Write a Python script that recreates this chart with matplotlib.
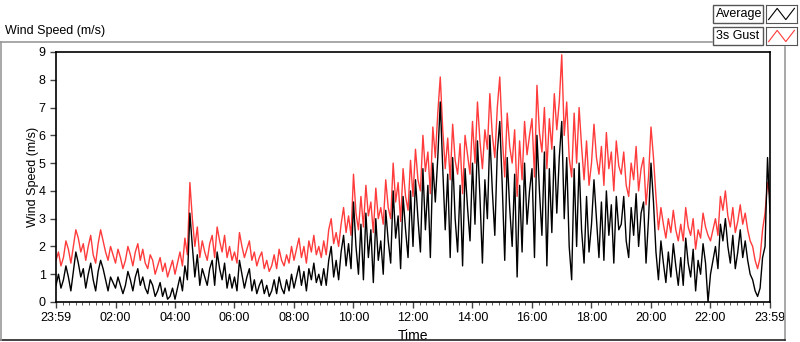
import numpy as np
import matplotlib.pyplot as plt
from matplotlib.lines import Line2D
from matplotlib.patches import Rectangle

plt.rcParams['font.family'] = ['Liberation Sans', 'DejaVu Sans']

# 5-minute samples, starting at 23:59
gust = [
    1.5, 1.8, 1.3, 1.6, 2.2, 1.9, 1.4, 2.0, 2.6, 2.3, 1.8, 2.1,
    1.5, 2.0, 2.4, 1.7, 1.4, 2.1, 2.6, 2.2, 1.8, 1.5, 2.0, 1.7,
    1.4, 1.9, 1.6, 1.2, 1.5, 2.0, 1.7, 1.3, 1.8, 2.1, 1.5, 1.9,
    1.4, 1.2, 1.7, 1.5, 1.0, 1.3, 1.6, 1.1, 1.4, 0.9, 1.2, 1.5,
    1.0, 1.4, 1.8, 1.3, 2.3, 1.7, 4.3, 3.0, 2.0, 2.7, 1.6, 2.2,
    1.8, 1.5, 2.1, 2.4, 1.6, 2.7, 2.2, 1.8, 2.4, 1.6, 2.0, 1.5,
    1.8, 1.4, 2.5, 2.0, 1.6, 1.9, 2.2, 1.5, 1.8, 1.3, 1.6, 1.8,
    1.2, 1.5, 1.1, 1.3, 1.7, 1.2, 1.9, 1.5, 1.3, 1.7, 1.4, 2.0,
    1.5, 1.9, 2.3, 1.6, 2.0, 1.4, 2.2, 1.8, 2.4, 1.7, 2.0, 1.6,
    2.2, 1.7, 2.6, 3.0, 2.1, 2.5, 2.0, 2.8, 3.4, 2.5, 3.1, 2.4,
    4.6, 3.2, 2.6, 3.8, 2.7, 4.2, 3.1, 3.6, 2.5, 4.1, 3.0, 3.4,
    2.8, 4.4, 3.4, 3.0, 5.0, 3.6, 4.3, 2.9, 4.8, 3.8, 3.3, 5.1,
    3.8, 5.5, 4.4, 4.0, 6.0, 4.7, 5.4, 3.9, 6.3, 5.2, 6.8, 8.1,
    6.2, 4.8, 5.9, 4.4, 6.4, 5.1, 4.6, 5.7, 3.9, 6.0, 5.3, 4.6,
    6.5, 5.0, 7.2, 5.8, 4.8, 6.2, 5.5, 7.5, 6.0, 5.2, 7.0, 8.1,
    6.0, 4.5, 6.8, 5.6, 5.0, 6.2, 3.8, 5.8, 4.4, 6.5, 5.3, 6.0,
    6.6, 4.5, 7.8, 6.1, 5.4, 7.0, 4.8, 6.6, 5.5, 7.5, 6.2, 7.2,
    8.9, 6.0, 7.2, 5.2, 4.5, 6.8, 5.0, 7.0, 5.6, 4.4, 5.8, 4.2,
    5.0, 6.4, 5.2, 4.6, 5.6, 4.2, 6.1, 4.8, 5.4, 4.0, 5.8, 4.9,
    4.6, 5.4, 4.2, 3.8, 5.0, 4.4, 5.6, 4.0, 4.8, 5.2, 3.5, 4.5,
    6.3, 5.2, 3.8, 2.6, 3.4, 2.8, 2.3, 3.0, 2.5, 3.3, 2.6, 2.2,
    2.8, 2.2, 3.4, 2.7, 2.4, 3.0, 1.9, 2.6, 2.3, 3.2, 2.7, 2.4,
    2.2, 2.6, 3.0, 2.4, 3.8, 3.3, 4.0, 3.1, 2.7, 3.4, 2.5, 2.9,
    3.5, 2.8, 3.2, 2.6, 2.2, 2.0, 1.5, 1.2, 1.6, 2.6, 3.2, 4.3,
    3.8,
]
average = [
    0.6, 1.0, 0.5, 0.8, 1.3, 0.9, 0.4, 1.1, 1.8, 1.4, 0.9, 1.2,
    0.5, 1.0, 1.4, 0.8, 0.4, 1.1, 1.5, 1.2, 0.8, 0.4, 0.9, 0.7,
    0.5, 0.9, 0.6, 0.3, 0.6, 1.1, 0.8, 0.4, 0.9, 1.2, 0.6, 0.9,
    0.5, 0.3, 0.8, 0.6, 0.2, 0.4, 0.7, 0.2, 0.5, 0.1, 0.2, 0.5,
    0.1, 0.5, 0.9, 0.4, 1.3, 0.8, 3.2, 2.0, 0.9, 1.7, 0.6, 1.2,
    0.9, 0.6, 1.2, 1.5, 0.6, 1.8, 1.2, 0.8, 1.4, 0.5, 1.0, 0.5,
    0.9, 0.4, 1.5, 1.0, 0.5, 0.9, 1.2, 0.4, 0.8, 0.3, 0.6, 0.8,
    0.3, 0.6, 0.2, 0.4, 0.8, 0.3, 0.9, 0.5, 0.3, 0.8, 0.4, 1.0,
    0.5, 0.9, 1.3, 0.6, 1.1, 0.4, 1.2, 0.8, 1.4, 0.7, 1.0, 0.6,
    1.2, 0.6, 1.5, 2.0, 0.9, 1.5, 0.8, 1.8, 2.4, 1.3, 2.1, 1.2,
    3.6, 2.0, 1.0, 2.8, 0.8, 3.2, 1.6, 2.6, 0.7, 3.0, 1.5, 2.2,
    1.0, 3.3, 2.2, 1.4, 4.0, 2.3, 3.1, 1.2, 3.8, 2.6, 1.6, 4.0,
    2.0, 4.4, 3.0, 1.8, 4.8, 2.6, 4.2, 1.6, 5.0, 3.6, 5.2, 7.2,
    4.8, 2.6, 4.6, 1.6, 5.2, 3.0, 1.8, 4.2, 1.3, 4.8, 3.4, 2.2,
    5.0, 2.8, 5.8, 3.8, 1.4, 4.4, 3.0, 6.0, 4.0, 2.4, 5.4, 6.5,
    4.2, 1.5, 5.2, 3.4, 2.0, 4.6, 0.9, 4.2, 1.8, 5.0, 2.8, 4.0,
    4.8, 1.6, 6.0, 4.0, 2.4, 5.4, 1.3, 4.8, 2.5, 5.6, 3.2, 5.2,
    6.5, 3.0, 5.2, 2.0, 0.8, 4.8, 2.0, 5.0, 2.6, 1.4, 3.8, 1.8,
    2.8, 4.4, 3.0, 1.6, 3.6, 1.5, 4.0, 2.4, 3.5, 1.4, 3.8, 2.6,
    2.8, 3.8, 2.2, 1.6, 3.4, 2.4, 3.9, 2.0, 3.2, 3.6, 1.4, 3.0,
    5.0, 3.6, 1.8, 0.8, 2.2, 1.4, 0.7, 1.8, 0.9, 2.1, 1.3, 0.6,
    1.6, 0.6, 2.3, 1.4, 0.9, 1.9, 0.4, 1.5, 1.0, 2.1, 1.4, 0.0,
    1.0, 1.5, 2.0, 1.2, 2.8, 2.2, 3.0, 2.0, 1.4, 2.4, 1.2, 1.8,
    2.6, 1.6, 2.2, 1.5, 1.0, 0.8, 0.4, 0.2, 0.5, 1.6, 2.0, 5.2,
    3.2,
]
tick_labels = ['23:59', '02:00', '04:00', '06:00', '08:00', '10:00', '12:00',
               '14:00', '16:00', '18:00', '20:00', '22:00', '23:59']

hours = np.arange(len(gust)) / 12

fig = plt.figure(figsize=(8, 3.42), dpi=100)
ax = fig.add_axes([56/800, 1 - 302/342, 714/800, 250/342])

ax.plot(hours, gust, color='#ff3b3b', lw=1)
ax.plot(hours, average, color='black', lw=1)

ax.set_xlim(0, 24)
ax.set_ylim(0, 9)
ax.set_yticks(range(10))
ax.set_xticks(np.arange(0, 25, 2))
ax.set_xticklabels(tick_labels)
ax.set_xticks(np.arange(0, 24.01, 2/9), minor=True)
ax.tick_params(axis='both', labelsize=9, length=4, width=1, color='#444444')
ax.tick_params(axis='x', which='minor', length=2.5, color='#444444')
for s in ax.spines.values():
    s.set_linewidth(1.2)
ax.set_xlabel('Time', fontsize=10, labelpad=3)
ax.set_ylabel('Wind Speed (m/s)', fontsize=9, labelpad=0)

# outer frame and caption
fig.text(5/800, 1 - 31/342, 'Wind Speed (m/s)', fontsize=9, va='center')
fig.add_artist(Line2D([0, 712/800], [1 - 42/342] * 2, color='#999999', lw=1.2))
fig.add_artist(Line2D([785/800] * 2, [1 - 47/342, 1 - 340/342], color='#999999', lw=1.2))
fig.add_artist(Line2D([0, 785/800], [1 - 340/342] * 2, color='#222222', lw=1.2))
fig.add_artist(Line2D([1/800] * 2, [1 - 42/342, 1 - 340/342], color='#999999', lw=1.2))

# legend
for i, (name, col) in enumerate([('Average', 'black'), ('3s Gust', '#ff3b3b')]):
    top = 5 + i * 22
    fig.add_artist(Rectangle((713/800, 1 - (top + 18)/342), 50/800, 18/342,
                             fill=False, ec='#555555', lw=1))
    fig.text(716/800, 1 - (top + 9)/342, name, fontsize=9, va='center')
    iax = fig.add_axes([766/800, 1 - (top + 18)/342, 31/800, 18/342])
    iax.plot([0, 1, 2, 3], [0, 1, 0, 1], color=col, lw=0.8)
    iax.set_xlim(-0.3, 3.3)
    iax.set_ylim(-0.3, 1.3)
    iax.set_xticks([])
    iax.set_yticks([])
    for s in iax.spines.values():
        s.set_color('#555555')

fig.savefig('out.png', dpi=100)
